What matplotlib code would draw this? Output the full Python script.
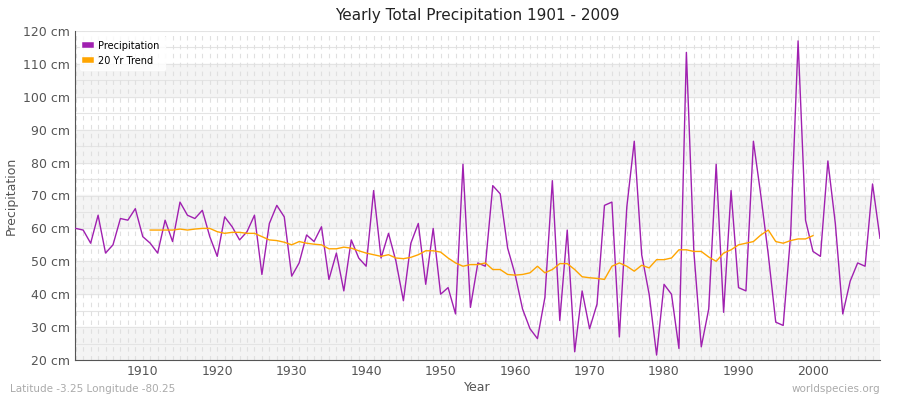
import matplotlib
matplotlib.use("Agg")
import matplotlib.pyplot as plt
import numpy as np

years = list(range(1901, 2010))
precip = [60,59.5,55.5,64,52.5,55,63,62.5,66,57.5,
          55.5,52.5,62.5,56,68,64,63,65.5,57.5,51.5,
          63.5,60.5,56.5,59,64,46,61.5,67,63.5,45.5,
          49.5,58,56,60.5,44.5,52.5,41,56.5,51,48.5,
          71.5,51,58.5,50,38,55.5,61.5,43,60,40,
          42,34,79.5,36,49.5,48.5,73,70.5,54,46,
          35.5,29.5,26.5,39,74.5,32,59.5,22.5,41,29.5,
          37,67,68,27,66.5,86.5,52,40,21.5,43,
          40,23.5,113.5,53,24,35.5,79.5,34.5,71.5,42,
          41,86.5,70,52,31.5,30.5,58,117,62.5,53,
          51.5,80.5,61.5,34,44,49.5,48.5,73.5,57]
trend_years = list(range(1911, 2001))
trend = [59.5,59.5,59.5,59.5,59.8,59.5,59.8,60,60,59,
         58.5,58.8,58.8,58.5,58.5,57.5,56.5,56.3,55.8,55,
         56,55.5,55.2,55,53.8,53.8,54.3,54,53.2,52.5,
         52,51.5,52,51,50.8,51.2,52,53.2,53.2,52.8,
         51,49.5,48.5,49,49,49.5,47.5,47.5,46,45.8,
         46,46.5,48.5,46.5,47.5,49.3,49.3,47.5,45.3,45,
         44.8,44.5,48.5,49.5,48.5,47,48.8,48,50.5,50.5,
         51,53.5,53.5,53,53,51.3,50,52.5,53.5,55,
         55.5,56,58,59.5,56,55.5,56.3,56.8,56.8,57.8]
yticks = list(range(20, 121, 10))

fig = plt.figure(figsize=(9, 4), dpi=100)
ax = fig.add_axes([75/900, 40/400, 805/900, 329/400])
ax.set_facecolor("white")
for lo in range(20, 120, 20):
    ax.axhspan(lo, lo+10, color="#f4f4f4", zorder=0)
for y in range(20, 121, 5):
    ax.axhline(y, color="#e4e4e4", lw=0.8, zorder=1)
for yr in years:
    ax.axvline(yr, color="#e0e0e0", lw=0.8, ls=(0, (4, 4)), zorder=1)
ax.plot(years, precip, color="#a020b0", lw=1.0, label="Precipitation", zorder=3)
ax.plot(trend_years, trend, color="#ffa500", lw=1.0, label="20 Yr Trend", zorder=3)
ax.set_xlim(1900.9, 2009)
ax.set_ylim(20, 120)
ax.set_yticks(yticks)
ax.set_yticklabels([f"{v} cm" for v in yticks])
ax.set_xticks(range(1910, 2001, 10))
ax.tick_params(colors="#555555", labelsize=9, length=0)
for s in ["top", "right"]:
    ax.spines[s].set_visible(False)
ax.spines["left"].set_color("#555555")
ax.spines["bottom"].set_color("#555555")
ax.set_xlabel("Year", color="#555555", fontsize=9, labelpad=2)
ax.set_ylabel("Precipitation", color="#555555", fontsize=9)
ax.set_title("Yearly Total Precipitation 1901 - 2009", fontsize=11, color="#222222", pad=8)
leg = ax.legend(loc="upper left", fontsize=7, frameon=True, handlelength=0.6,
                borderpad=0.5, handletextpad=0.8)
for h in leg.legend_handles:
    h.set_linewidth(4)
leg.get_frame().set_edgecolor("white")
fig.text(10/900, 8/400, "Latitude -3.25 Longitude -80.25", fontsize=7.5, color="#aaaaaa")
fig.text(880/900, 8/400, "worldspecies.org", fontsize=7.5, color="#aaaaaa", ha="right")
fig.savefig("out.png", dpi=100)
